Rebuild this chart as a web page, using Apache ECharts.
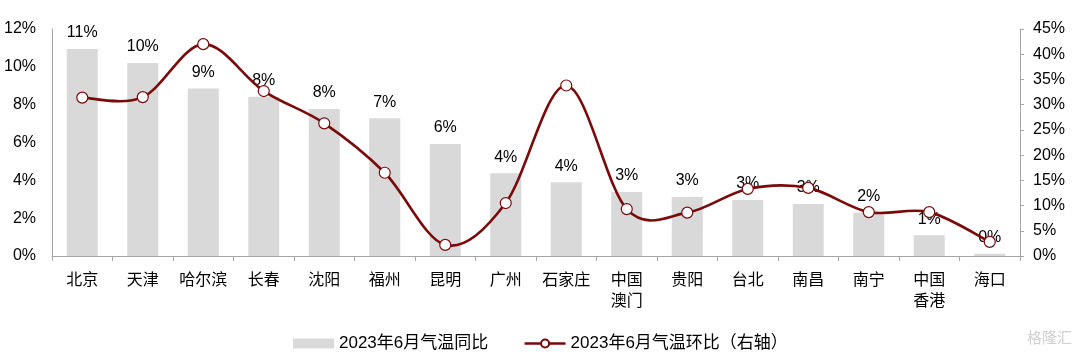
<!DOCTYPE html>
<html>
<head>
<meta charset="utf-8">
<script src="https://cdn.jsdelivr.net/npm/echarts@6/dist/echarts.min.js"></script>
<style>html,body{margin:0;padding:0;background:#fff}#c{width:1080px;height:356px}</style>
</head>
<body>
<div id="c"></div>
<script>
const categories = ['北京','天津','哈尔滨','长春','沈阳','福州','昆明','广州','石家庄','中国\n澳门','贵阳','台北','南昌','南宁','中国\n香港','海口'];
const yoyValues = [10.94, 10.2, 8.86, 8.42, 7.77, 7.28, 5.92, 4.38, 3.9, 3.38, 3.12, 2.96, 2.75, 2.3, 1.1, 0.12];
const momValues = [31.4, 31.5, 42.0, 32.7, 26.3, 16.5, 2.2, 10.5, 33.8, 9.3, 8.6, 13.3, 13.5, 8.7, 8.7, 2.8];
const leftTicks = {min: 0, max: 12, interval: 2};
const rightTicks = {min: 0, max: 45, interval: 5};
const seriesNames = ['2023年6月气温同比', '2023年6月气温环比（右轴）'];

const FONT = 'Liberation Sans, Arial, Noto Sans CJK SC, sans-serif';
const LINE_COLOR = '#7a0a0a';
const chart = echarts.init(document.getElementById('c'), null, {renderer: 'canvas'});

// Excel-style smoothed curve segment between point i and i+1, via the axes' coordinate conversion
function renderSegment(params, api) {
  const i = params.dataIndex;
  const n = momValues.length;
  if (i >= n - 1) return null;
  const P = k => api.coord([Math.max(0, Math.min(n - 1, k)), momValues[Math.max(0, Math.min(n - 1, k))]]);
  const p0 = P(i - 1), p1 = P(i), p2 = P(i + 1), p3 = P(i + 2);
  const t = 1 / 6;
  return {
    type: 'bezierCurve',
    shape: {
      x1: p1[0], y1: p1[1], x2: p2[0], y2: p2[1],
      cpx1: p1[0] + (p2[0] - p0[0]) * t, cpy1: p1[1] + (p2[1] - p0[1]) * t,
      cpx2: p2[0] - (p3[0] - p1[0]) * t, cpy2: p2[1] - (p3[1] - p1[1]) * t
    },
    style: {stroke: LINE_COLOR, lineWidth: 2.6, fill: 'none'}
  };
}

chart.setOption({
  animation: false,
  textStyle: {fontFamily: FONT},
  grid: {left: 52, right: 60, top: 29, bottom: 100, containLabel: false},
  legend: {
    top: 330, left: 288,
    itemGap: 35, itemWidth: 41, itemHeight: 10,
    textStyle: {fontSize: 17, color: '#000', fontFamily: FONT},
    data: [
      {name: seriesNames[0], icon: 'rect'},
      {name: seriesNames[1], lineStyle: {opacity: 1, width: 2.6, color: LINE_COLOR}}
    ]
  },
  xAxis: {
    type: 'category',
    data: categories,
    axisLine: {lineStyle: {color: '#a6a6a6', width: 1}},
    axisTick: {show: true, length: 5, lineStyle: {color: '#a6a6a6'}},
    axisLabel: {interval: 0, hideOverlap: false, fontSize: 16, color: '#000', margin: 12, lineHeight: 21, fontFamily: 'Noto Sans CJK SC, sans-serif'}
  },
  yAxis: [
    {
      type: 'value', min: leftTicks.min, max: leftTicks.max, interval: leftTicks.interval,
      axisLine: {show: true, lineStyle: {color: '#a6a6a6'}},
      axisTick: {show: false},
      splitLine: {show: false},
      axisLabel: {formatter: '{value}%', fontSize: 16, color: '#000', margin: 16}
    },
    {
      type: 'value', min: rightTicks.min, max: rightTicks.max, interval: rightTicks.interval,
      position: 'right',
      axisLine: {show: true, lineStyle: {color: '#a6a6a6'}},
      axisTick: {show: true, length: 4, lineStyle: {color: '#a6a6a6'}},
      splitLine: {show: false},
      axisLabel: {formatter: '{value}%', fontSize: 16, color: '#000', margin: 13}
    }
  ],
  series: [
    {
      name: seriesNames[0],
      type: 'bar',
      yAxisIndex: 0,
      data: yoyValues,
      barWidth: 31,
      itemStyle: {color: '#d9d9d9'},
      label: {
        show: true, position: 'top', distance: 8,
        fontSize: 16, color: '#000',
        formatter: p => Math.round(p.value) + '%'
      },
      z: 1
    },
    {
      type: 'custom',
      yAxisIndex: 1,
      data: momValues.map((v, i) => [i, v]),
      renderItem: renderSegment,
      silent: true,
      z: 2
    },
    {
      name: seriesNames[1],
      type: 'line',
      yAxisIndex: 1,
      data: momValues,
      symbol: 'circle',
      symbolSize: 11,
      lineStyle: {color: LINE_COLOR, width: 2.6, opacity: 0},
      itemStyle: {color: '#fff', borderColor: LINE_COLOR, borderWidth: 1.2},
      z: 3
    }
  ],
  graphic: [{
    type: 'text', right: 8, top: 330,
    style: {text: '格隆汇', fontSize: 15, fill: '#cfcfcf', fontFamily: 'Noto Sans CJK SC'}
  }]
});
</script>
</body>
</html>
